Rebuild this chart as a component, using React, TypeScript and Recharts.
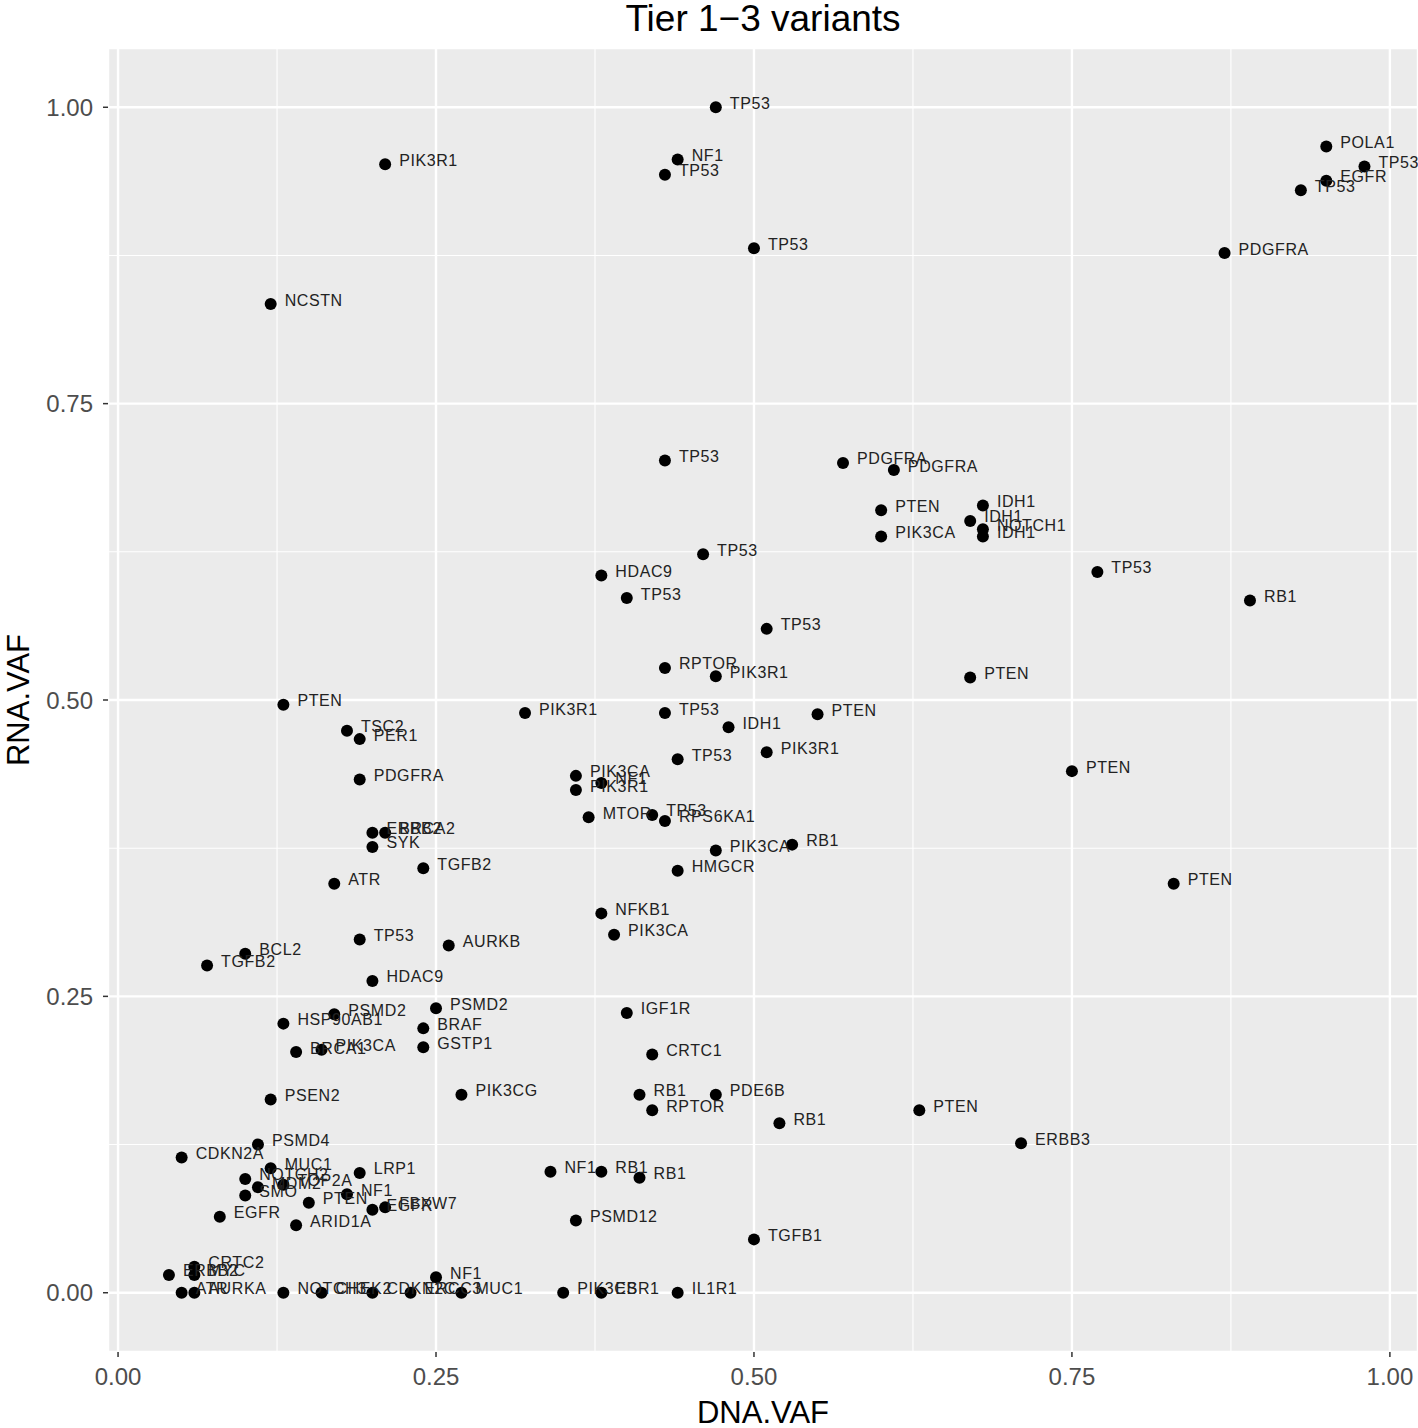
import { ScatterChart, Scatter, XAxis, YAxis, CartesianGrid, ReferenceLine } from "recharts";

const genes = [
  "TP53", "PIK3R1", "NF1", "TP53", "TP53", "NCSTN", "POLA1", "TP53", "EGFR", "TP53",
  "PDGFRA", "TP53", "PDGFRA", "PDGFRA", "PTEN", "PIK3CA", "IDH1", "IDH1", "NOTCH1", "IDH1",
  "TP53", "HDAC9", "TP53", "TP53", "RB1", "TP53", "RPTOR", "PIK3R1", "PTEN", "PTEN",
  "PIK3R1", "TP53", "PTEN", "IDH1", "TSC2", "PER1", "PIK3R1", "TP53", "PTEN", "PDGFRA",
  "PIK3CA", "NF1", "PIK3R1", "MTOR", "TP53", "RPS6KA1", "ERBB2", "BRCA2", "SYK", "PIK3CA",
  "RB1", "TGFB2", "HMGCR", "PTEN", "ATR", "NFKB1", "PIK3CA", "TP53", "AURKB", "BCL2",
  "TGFB2", "HDAC9", "PSMD2", "PSMD2", "IGF1R", "HSP90AB1", "BRAF", "GSTP1", "BRCA1", "PIK3CA",
  "CRTC1", "PSEN2", "PIK3CG", "RB1", "PDE6B", "RPTOR", "PTEN", "RB1", "ERBB3", "PSMD4",
  "CDKN2A", "MUC1", "NOTCH2", "MDM2", "TOP2A", "SMO", "LRP1", "NF1", "PTEN", "EGFR",
  "FBXW7", "EGFR", "ARID1A", "NF1", "RB1", "RB1", "PSMD12", "TGFB1", "ERBB2", "CRTC2",
  "MYC", "ATR", "AURKA", "NOTCH3", "CHEK2", "CDKN2C", "ERCC3", "NF1", "MUC1", "PIK3CB",
  "ESR1", "IL1R1",
];

const dnaVaf = [
  0.47, 0.21, 0.44, 0.43, 0.50, 0.12, 0.95, 0.98, 0.95, 0.93,
  0.87, 0.43, 0.57, 0.61, 0.60, 0.60, 0.68, 0.67, 0.68, 0.68,
  0.46, 0.38, 0.40, 0.77, 0.89, 0.51, 0.43, 0.47, 0.67, 0.13,
  0.32, 0.43, 0.55, 0.48, 0.18, 0.19, 0.51, 0.44, 0.75, 0.19,
  0.36, 0.38, 0.36, 0.37, 0.42, 0.43, 0.20, 0.21, 0.20, 0.47,
  0.53, 0.24, 0.44, 0.83, 0.17, 0.38, 0.39, 0.19, 0.26, 0.10,
  0.07, 0.20, 0.25, 0.17, 0.40, 0.13, 0.24, 0.24, 0.14, 0.16,
  0.42, 0.12, 0.27, 0.41, 0.47, 0.42, 0.63, 0.52, 0.71, 0.11,
  0.05, 0.12, 0.10, 0.11, 0.13, 0.10, 0.19, 0.18, 0.15, 0.20,
  0.21, 0.08, 0.14, 0.34, 0.38, 0.41, 0.36, 0.50, 0.04, 0.06,
  0.06, 0.05, 0.06, 0.13, 0.16, 0.20, 0.23, 0.25, 0.27, 0.35,
  0.38, 0.44,
];

const rnaVaf = [
  1.0, 0.952, 0.956, 0.943, 0.881, 0.834, 0.967, 0.95, 0.938, 0.93,
  0.877, 0.702, 0.70, 0.694, 0.66, 0.638, 0.664, 0.651, 0.644, 0.638,
  0.623, 0.605, 0.586, 0.608, 0.584, 0.56, 0.527, 0.52, 0.519, 0.496,
  0.489, 0.489, 0.488, 0.477, 0.474, 0.467, 0.456, 0.45, 0.44, 0.433,
  0.436, 0.43, 0.424, 0.401, 0.403, 0.398, 0.388, 0.388, 0.376, 0.373,
  0.378, 0.358, 0.356, 0.345, 0.345, 0.32, 0.302, 0.298, 0.293, 0.286,
  0.276, 0.263, 0.24, 0.235, 0.236, 0.227, 0.223, 0.207, 0.203, 0.205,
  0.201, 0.163, 0.167, 0.167, 0.167, 0.154, 0.154, 0.143, 0.126, 0.125,
  0.114, 0.105, 0.096, 0.089, 0.091, 0.082, 0.101, 0.083, 0.076, 0.07,
  0.072, 0.064, 0.057, 0.102, 0.102, 0.097, 0.061, 0.045, 0.015, 0.022,
  0.015, 0.0, 0.0, 0.0, 0.0, 0.0, 0.0, 0.013, 0.0, 0.0,
  0.0, 0.0,
];

const majorTicks = [0, 0.25, 0.5, 0.75, 1];
const minorTicks = [0.125, 0.375, 0.625, 0.875];

const data = genes.map((g, i) => ({ gene: g, dna: dnaVaf[i], rna: rnaVaf[i] }));

const FONT = "'Liberation Sans', Arial, Helvetica, sans-serif";

const Dot = (props: any) => <circle cx={props.cx} cy={props.cy} r={6} fill="#000" />;

const Label = (props: any) => (
  <text
    x={props.cx + 14}
    y={props.cy - 4}
    fontSize={16}
    letterSpacing={0.6}
    fontFamily={FONT}
    fill="#222"
    dominantBaseline="central"
  >
    {props.payload.gene}
  </text>
);

export default function App() {
  return (
    <div style={{ position: "relative", width: 1418, height: 1428, fontFamily: FONT }}>
      <style>{`body{margin:0}`}</style>
      <div style={{ position: "absolute", top: 0, left: 108, width: 1310, textAlign: "center", fontSize: 37, lineHeight: "37px", color: "#000" }}>
        Tier 1−3 variants
      </div>
      <ScatterChart width={1418} height={1428} margin={{ top: 48, right: 0, bottom: 0, left: 0 }}>
        <CartesianGrid fill="#EBEBEB" stroke="#ffffff" strokeWidth={2.4} />
        {minorTicks.map((t) => (
          <ReferenceLine key={"x" + t} x={t} stroke="#ffffff" strokeWidth={1.1} />
        ))}
        {minorTicks.map((t) => (
          <ReferenceLine key={"y" + t} y={t} stroke="#ffffff" strokeWidth={1.1} />
        ))}
        <XAxis
          type="number"
          dataKey="dna"
          domain={[-0.0079, 1.0221]}
          ticks={majorTicks}
          tickFormatter={(v: number) => v.toFixed(2)}
          height={76}
          axisLine={false}
          tickSize={5}
          tickMargin={11}
          tickLine={{ stroke: "#333333", strokeWidth: 1.5 }}
          tick={{ fontSize: 24, fill: "#4D4D4D", fontFamily: FONT }}
          allowDataOverflow
          label={({ viewBox }: any) => (
            <text x={viewBox.x + viewBox.width / 2} y={viewBox.y + 60} textAnchor="middle" dominantBaseline="central" fontSize={31} fontFamily={FONT} fill="#000">
              DNA.VAF
            </text>
          )}
        />
        <YAxis
          type="number"
          dataKey="rna"
          domain={[-0.05, 1.05]}
          ticks={majorTicks}
          tickFormatter={(v: number) => v.toFixed(2)}
          width={108}
          axisLine={false}
          tickSize={5}
          tickMargin={10}
          tickLine={{ stroke: "#333333", strokeWidth: 1.5 }}
          tick={{ fontSize: 24, fill: "#4D4D4D", fontFamily: FONT }}
          allowDataOverflow
          label={({ viewBox }: any) => (
            <text
              x={18}
              y={viewBox.y + viewBox.height / 2}
              textAnchor="middle"
              dominantBaseline="central"
              fontSize={31}
              fontFamily={FONT}
              fill="#000"
              transform={`rotate(-90, 18, ${viewBox.y + viewBox.height / 2})`}
            >
              RNA.VAF
            </text>
          )}
        />
        <Scatter data={data} shape={Dot} isAnimationActive={false} />
        <Scatter data={data} shape={Label} isAnimationActive={false} />
      </ScatterChart>
    </div>
  );
}
